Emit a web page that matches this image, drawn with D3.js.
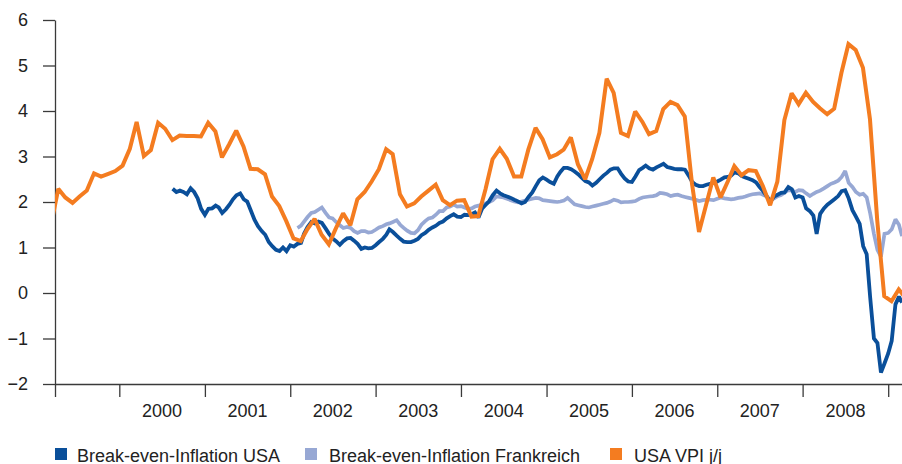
<!DOCTYPE html>
<html>
<head>
<meta charset="utf-8">
<script src="https://cdn.jsdelivr.net/npm/d3@7"></script>
<style>
  html, body { margin: 0; padding: 0; background: #fff; }
  svg { display: block; font-family: "Liberation Sans", Arial, sans-serif; }
</style>
</head>
<body>
<svg id="chart" width="902" height="464"></svg>
<script>
"use strict";

// USA VPI j/j, monthly, first value is March 1999
var cpiStart = [1999, 2];
var cpiUsa = [
  1.50, 2.29, 2.10, 1.98, 2.12, 2.25, 2.63, 2.56, 2.62, 2.68,
  2.80, 3.17, 3.76, 3.01, 3.14, 3.74, 3.61, 3.36, 3.46, 3.45, 3.45, 3.44,
  3.74, 3.55, 2.98, 3.27, 3.57, 3.22, 2.73, 2.72, 2.61, 2.12, 1.91, 1.58,
  1.20, 1.14, 1.40, 1.63, 1.28, 1.07, 1.42, 1.75, 1.49, 2.06, 2.22, 2.45,
  2.72, 3.16, 3.05, 2.17, 1.90, 1.97, 2.12, 2.25, 2.38, 2.04, 1.93, 2.03,
  2.04, 1.68, 1.69, 2.28, 2.94, 3.17, 2.95, 2.56, 2.56, 3.15, 3.63, 3.38,
  2.98, 3.05, 3.15, 3.42, 2.83, 2.50, 2.94, 3.52, 4.71, 4.40, 3.52, 3.45,
  3.99, 3.76, 3.49, 3.56, 4.04, 4.20, 4.13, 3.88, 2.40, 1.34, 1.95, 2.54,
  2.10, 2.45, 2.79, 2.59, 2.70, 2.68, 2.35, 1.93, 2.45, 3.80, 4.39, 4.15,
  4.40, 4.20, 4.06, 3.93, 4.05, 4.84, 5.47, 5.34, 4.95, 3.82, 1.60, -0.07,
  -0.18, 0.08, -0.10
];

// Break-even-Inflation USA, half-monthly (1st and 16th), first value 16 Aug 2000
var beUsaStart = [2000, 7, 16];
var beUsa = [
  2.29, 2.22, 2.25, 2.22, 2.17, 2.30, 2.22, 2.08, 1.85, 1.72,
  1.85, 1.86, 1.92, 1.88, 1.76, 1.84, 1.94, 2.06, 2.15, 2.19,
  2.06, 2.01, 1.82, 1.61, 1.47, 1.36, 1.28, 1.12, 1.03, 0.95,
  0.92, 1.00, 0.92, 1.05, 1.02, 1.08, 1.10, 1.30, 1.45, 1.56,
  1.53, 1.57, 1.54, 1.42, 1.30, 1.20, 1.14, 1.06, 1.14, 1.20,
  1.21, 1.15, 1.08, 0.97, 1.00, 0.98, 0.99, 1.05, 1.12, 1.19,
  1.28, 1.40, 1.34, 1.26, 1.19, 1.13, 1.12, 1.12, 1.15, 1.19,
  1.27, 1.32, 1.39, 1.44, 1.48, 1.54, 1.57, 1.64, 1.69, 1.73,
  1.68, 1.67, 1.72, 1.71, 1.73, 1.77, 1.66, 1.86, 1.94, 2.02,
  2.15, 2.25, 2.19, 2.15, 2.12, 2.09, 2.05, 2.01, 1.97, 2.00,
  2.11, 2.21, 2.35, 2.48, 2.54, 2.49, 2.44, 2.40, 2.56, 2.66,
  2.75, 2.75, 2.72, 2.67, 2.61, 2.53, 2.46, 2.43, 2.36, 2.42,
  2.50, 2.58, 2.64, 2.71, 2.74, 2.74, 2.62, 2.52, 2.45, 2.44,
  2.56, 2.70, 2.75, 2.80, 2.74, 2.71, 2.76, 2.80, 2.84, 2.77,
  2.75, 2.73, 2.72, 2.72, 2.71, 2.58, 2.44, 2.38, 2.35, 2.35,
  2.38, 2.40, 2.42, 2.45, 2.49, 2.54, 2.55, 2.58, 2.65, 2.63,
  2.57, 2.54, 2.51, 2.48, 2.43, 2.33, 2.24, 2.12, 2.01, 2.12,
  2.16, 2.20, 2.21, 2.33, 2.28, 2.10, 2.13, 2.10, 1.86, 1.80,
  1.70, 1.30, 1.74, 1.86, 1.94, 2.00, 2.06, 2.13, 2.24, 2.26,
  2.08, 1.82, 1.68, 1.52, 1.03, 0.85, -0.10, -1.00, -1.10, -1.75,
  -1.55, -1.33, -1.05, -0.25, -0.08, -0.21
];

// Break-even-Inflation Frankreich, half-monthly, first value 1 Feb 2002
var beFraStart = [2002, 1, 1];
var beFra = [
  1.43, 1.48, 1.57, 1.67, 1.76, 1.78, 1.83, 1.88, 1.76, 1.66,
  1.64, 1.56, 1.49, 1.43, 1.45, 1.43, 1.36, 1.32, 1.36, 1.36,
  1.33, 1.34, 1.39, 1.44, 1.47, 1.51, 1.53, 1.56, 1.60, 1.50,
  1.43, 1.37, 1.32, 1.31, 1.38, 1.50, 1.58, 1.64, 1.66, 1.72,
  1.80, 1.80, 1.88, 1.90, 1.94, 1.90, 1.91, 1.88, 1.85, 1.86,
  1.90, 1.92, 1.95, 1.97, 2.00, 2.04, 2.12, 2.11, 2.10, 2.07,
  2.04, 2.01, 1.99, 2.01, 2.03, 2.05, 2.07, 2.09, 2.08, 2.04,
  2.03, 2.02, 2.01, 2.00, 2.01, 2.03, 2.09, 2.02, 1.95, 1.93,
  1.91, 1.89, 1.88, 1.90, 1.92, 1.94, 1.96, 1.98, 2.01, 2.05,
  2.03, 1.99, 2.00, 2.00, 2.01, 2.02, 2.07, 2.10, 2.11, 2.12,
  2.13, 2.15, 2.20, 2.19, 2.17, 2.13, 2.15, 2.16, 2.13, 2.11,
  2.09, 2.07, 2.05, 2.02, 2.04, 2.05, 2.05, 2.04, 2.07, 2.10,
  2.08, 2.07, 2.06, 2.07, 2.09, 2.10, 2.12, 2.15, 2.17, 2.18,
  2.19, 2.16, 2.12, 2.04, 2.08, 2.13, 2.15, 2.21, 2.26, 2.25,
  2.22, 2.26, 2.25, 2.19, 2.13, 2.18, 2.22, 2.25, 2.30, 2.35,
  2.40, 2.43, 2.47, 2.55, 2.68, 2.42, 2.33, 2.22, 2.16, 2.18,
  2.10, 1.75, 1.30, 0.95, 0.80, 1.30, 1.32, 1.40, 1.62, 1.50,
  1.25
];

var yTicks = [-2, -1, 0, 1, 2, 3, 4, 5, 6];
var yearLabels = ["2000", "2001", "2002", "2003", "2004", "2005", "2006", "2007", "2008"];
var seriesNames = ["Break-even-Inflation USA", "Break-even-Inflation Frankreich", "USA VPI j/j"];
var seriesColors = ["#0a4f9a", "#97a8d4", "#f47c20"];

var svg = d3.select("#chart");

var x = d3.scaleTime()
  .domain([new Date(1999, 3, 1), new Date(2009, 2, 1)])
  .range([55, 902]);

var y = d3.scaleLinear()
  .domain([-2, 6])
  .range([384, 20]);

var halfMonthDate = function(start, i) {
  var k = (start[2] === 16 ? 1 : 0) + i;
  return new Date(start[0], start[1] + Math.floor(k / 2), k % 2 ? 16 : 1);
};

var toPoints = function(values, dateFn) {
  return values.map(function(v, i) { return { date: dateFn(i), value: v }; });
};

var cpiPoints = toPoints(cpiUsa, function(i) {
  return new Date(cpiStart[0], cpiStart[1] + i, 15);
});
var usaPoints = toPoints(beUsa, function(i) { return halfMonthDate(beUsaStart, i); });
var fraPoints = toPoints(beFra, function(i) { return halfMonthDate(beFraStart, i); });

// axes
var axisColor = "#3a3a3a";

var yAxis = svg.append("g")
  .attr("transform", "translate(55,0)")
  .call(d3.axisLeft(y)
    .tickValues(yTicks)
    .tickSize(12)
    .tickSizeOuter(0)
    .tickPadding(15)
    .tickFormat(function(d) { return d < 0 ? "\u2212" + Math.abs(d) : d; }));

var xTickDates = [new Date(1999, 3, 1)].concat(d3.range(2000, 2010).map(function(yr) {
  return new Date(yr, 0, 1);
}));

var xAxis = svg.append("g")
  .attr("transform", "translate(0,384)")
  .call(d3.axisBottom(x)
    .tickValues(xTickDates)
    .tickSize(13)
    .tickSizeOuter(0)
    .tickFormat(""));

[yAxis, xAxis].forEach(function(g) {
  g.selectAll("path, line").attr("stroke", axisColor).attr("stroke-width", 1.3);
  g.selectAll("text").attr("fill", "#222").style("font-size", "18px")
    .style("font-family", '"Liberation Sans", Arial, sans-serif');
});

svg.append("g").selectAll("text")
  .data(yearLabels)
  .enter().append("text")
  .attr("x", function(d) { return x(new Date(+d, 6, 2)); })
  .attr("y", 417)
  .attr("text-anchor", "middle")
  .attr("fill", "#222")
  .style("font-size", "18px")
  .text(function(d) { return d; });

// lines
svg.append("clipPath").attr("id", "plot-clip")
  .append("rect").attr("x", 55).attr("y", 0).attr("width", 847).attr("height", 400);

var line = d3.line()
  .x(function(d) { return x(d.date); })
  .y(function(d) { return y(d.value); });

var plot = svg.append("g").attr("clip-path", "url(#plot-clip)");

[[fraPoints, 1, 3.7], [usaPoints, 0, 3.8], [cpiPoints, 2, 4]].forEach(function(s) {
  plot.append("path")
    .datum(s[0])
    .attr("fill", "none")
    .attr("stroke", seriesColors[s[1]])
    .attr("stroke-width", s[2])
    .attr("stroke-linejoin", "miter")
    .attr("stroke-miterlimit", 2)
    .attr("d", line);
});

// legend
var legendX = [55, 305, 610];
var legend = svg.append("g").selectAll("g")
  .data(seriesNames)
  .enter().append("g")
  .attr("transform", function(d, i) { return "translate(" + legendX[i] + ",448)"; });

legend.append("rect")
  .attr("width", 12).attr("height", 12)
  .attr("fill", function(d, i) { return seriesColors[i]; });

legend.append("text")
  .attr("x", function(d, i) { return i === 0 ? 22 : 24; })
  .attr("y", 13.5)
  .attr("fill", "#222")
  .style("font-size", "18px")
  .text(function(d) { return d; });
</script>
</body>
</html>
